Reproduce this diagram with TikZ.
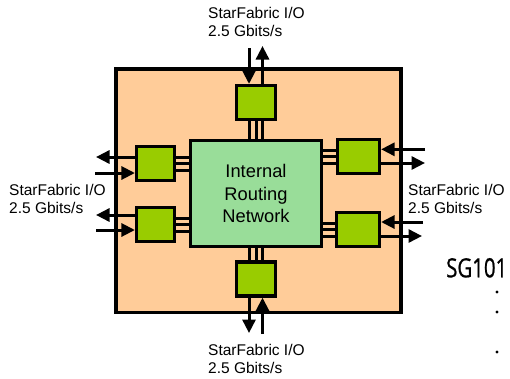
\documentclass[tikz,border=0pt]{standalone}
\usepackage{fontspec}
\setmainfont{Liberation Sans}
\newfontfamily\sgfont[FakeStretch=0.77,FakeBold=0.8]{Open Sans}
\usetikzlibrary{arrows.meta}
\definecolor{peach}{RGB}{255,204,153}
\definecolor{midgreen}{RGB}{153,221,153}
\definecolor{lime}{RGB}{153,204,0}
\tikzset{
  port/.style={draw=black, line width=3.2pt, fill=lime, minimum width=39pt, minimum height=34pt, inner sep=0pt},
  router/.style={draw=black, line width=3.2pt, fill=midgreen, minimum width=131pt, minimum height=106pt, inner sep=0pt, align=center, font=\fontsize{18.3}{22.5}\selectfont},
  chip/.style={draw=black, line width=3.7pt, fill=peach},
  arr/.style={line width=3pt, -{Triangle[length=13.5pt,width=13pt]}},
  bus/.style={line width=3pt},
  lbl/.style={anchor=north west, inner sep=0pt, align=left, font=\fontsize{15.5}{18.5}\selectfont},
}
\begin{document}
\begin{tikzpicture}[x=1pt,y=-1pt]
\useasboundingbox (0,0) rectangle (510,378);
\draw[chip] (116.3,69.3) rectangle (401,312.5);
% nodes
\node[router] (C) at (256,193.5) {Internal\\Routing\\Network};
\node[port] (T) at (256,102.5) {};
\node[port] (B) at (256,279) {};
\node[port, minimum width=38pt] (L1) at (155.5,163.5) {};
\node[port, minimum width=38pt] (L2) at (155.5,224.5) {};
\node[port, minimum width=42pt] (R1) at (358.5,156.5) {};
\node[port, minimum width=43pt] (R2) at (358,229.5) {};
% buses
\foreach \d in {-6.5,0,6.5}{
  \draw[bus] ([xshift=\d pt]T.south) -- ([xshift=\d pt]T.south |- C.north);
  \draw[bus] ([xshift=\d pt]B.north) -- ([xshift=\d pt]B.north |- C.south);
  \draw[bus] ([yshift=\d pt]L1.east) -- ([yshift=\d pt]L1.east -| C.west);
  \draw[bus] ([yshift=\d pt]L2.east) -- ([yshift=\d pt]L2.east -| C.west);
  \draw[bus] ([yshift=\d pt]R1.west) -- ([yshift=\d pt]R1.west -| C.east);
  \draw[bus] ([yshift=\d pt]R2.west) -- ([yshift=\d pt]R2.west -| C.east);
}
% free ends
\coordinate (tin) at (249,48);
\coordinate (tout) at (262.5,46);
\coordinate (bout) at (249,333);
\coordinate (bin) at (262.5,334);
\coordinate (l1out) at (96,157);
\coordinate (l1in) at (95,173);
\coordinate (l2out) at (96,215);
\coordinate (l2in) at (96,230);
\coordinate (r1in) at (425,149.3);
\coordinate (r1out) at (425,163);
\coordinate (r2in) at (423,222);
\coordinate (r2out) at (422,236);
% arrows
\draw[arr] (tin) -- (tin |- T.north);
\draw[arr] (tout |- T.north) -- (tout);
\draw[arr] (bout |- B.south) -- (bout);
\draw[arr] (bin) -- (bin |- B.south);
\draw[arr] (l1out -| L1.west) -- (l1out);
\draw[arr] (l1in) -- (l1in -| L1.west);
\draw[arr] (l2out -| L2.west) -- (l2out);
\draw[arr] (l2in) -- (l2in -| L2.west);
\draw[arr] (r1in) -- (r1in -| R1.east);
\draw[arr] (r1out -| R1.east) -- (r1out);
\draw[arr] (r2in) -- (r2in -| R2.east);
\draw[arr] (r2out -| R2.east) -- (r2out);
% labels
\node[lbl] (lt) at (208,7) {StarFabric I/O\\2.5 Gbits/s};
\node[lbl] (ll) at (9,184) {StarFabric I/O\\2.5 Gbits/s};
\node[lbl] (lr) at (408,184) {StarFabric I/O\\2.5 Gbits/s};
\node[lbl] (lb) at (208,344) {StarFabric I/O\\2.5 Gbits/s};
\node[anchor=base west, inner sep=0pt, font=\sgfont\fontsize{26.5}{30}\selectfont] (sg) at (446,277.3) {SG101};
\foreach \y in {292,312,352}{
  \fill (497,\y) circle (1.6pt);
}
\end{tikzpicture}
\end{document}
